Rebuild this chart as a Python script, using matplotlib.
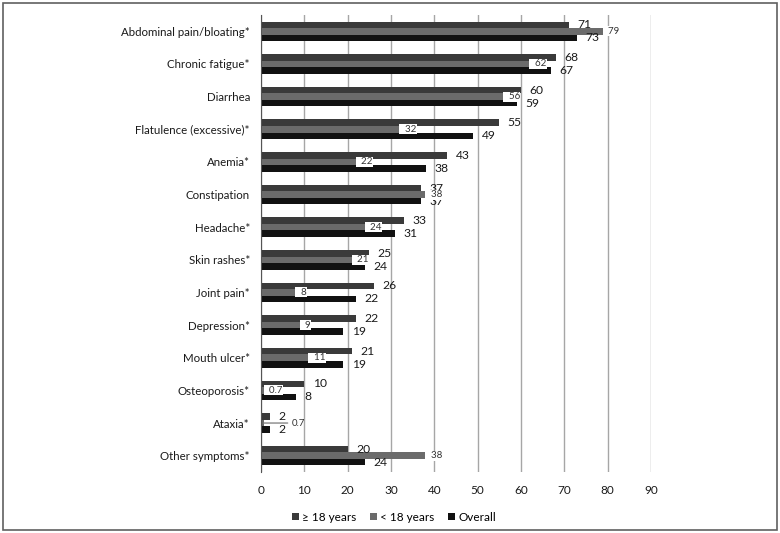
import matplotlib.pyplot as plt
import numpy as np
from matplotlib.patches import Rectangle

categories = [
    "Abdominal pain/bloating*", "Chronic fatigue*", "Diarrhea", "Flatulence (excessive)*",
    "Anemia*", "Constipation", "Headache*", "Skin rashes*", "Joint pain*", "Depression*",
    "Mouth ulcer*", "Osteoporosis*", "Ataxia*", "Other symptoms*",
]
adults = [71, 68, 60, 55, 43, 37, 33, 25, 26, 22, 21, 10, 2, 20]
children = [79, 62, 56, 32, 22, 38, 24, 21, 8, 9, 11, 0.7, 0.7, 38]
overall = [73, 67, 59, 49, 38, 37, 31, 24, 22, 19, 19, 8, 2, 24]
child_labels = ["79", "62", "56", "32", "22", "38", "24", "21", "8", "9", "11", "0.7", "0.7", "38"]
x_ticks = [0, 10, 20, 30, 40, 50, 60, 70, 80, 90]

plt.rcParams["font.family"] = ["Lato", "DejaVu Sans"]

fig = plt.figure(figsize=(7.8, 5.33), dpi=100)
ax = fig.add_axes([261 / 780, 1 - 472 / 533, 390 / 780, 457 / 533])

y = np.arange(len(categories))
h = 0.2
c_adult, c_child, c_all = "#3a3a3a", "#6b6b6b", "#111111"

ax.barh(y - h, adults, height=h, color=c_adult, label="\u2265 18 years", zorder=3)
ax.barh(y, children, height=h, color=c_child, label="< 18 years", zorder=3)
ax.barh(y + h, overall, height=h, color=c_all, label="Overall", zorder=3)

for i in range(len(categories)):
    ax.annotate(str(adults[i]), (adults[i], y[i] - h), xytext=(6, 0), textcoords="offset points",
                va="center", ha="left", fontsize=8.7, color="#1a1a1a", zorder=5)
    ax.annotate(str(overall[i]), (overall[i], y[i] + h), xytext=(6, 0), textcoords="offset points",
                va="center", ha="left", fontsize=8.7, color="#1a1a1a", zorder=5)
    if categories[i] == "Ataxia*":
        ax.annotate(child_labels[i], (children[i], y[i]), xytext=(20, 0), textcoords="offset points",
                    va="center", ha="left", fontsize=7, color="#333333", zorder=5,
                    arrowprops=dict(arrowstyle="-", color="#888888", lw=1, shrinkA=1, shrinkB=0))
    else:
        ax.annotate("  " + child_labels[i], (children[i], y[i]), xytext=(0, 0), textcoords="offset points",
                    va="center", ha="left", fontsize=7, color="#333333", zorder=5,
                    bbox=dict(boxstyle="square,pad=0.05", fc="white", ec="none"))

ax.set_xlim(0, 90)
ax.set_ylim(len(categories) - 0.5, -0.5)
ax.set_yticks(y)
ax.set_yticklabels(categories, fontsize=8.3, color="#1a1a1a")
ax.set_xticks(x_ticks)
ax.tick_params(axis="x", length=0, pad=9, labelsize=8.5, labelcolor="#1a1a1a")
ax.tick_params(axis="y", length=0, pad=8)
ax.grid(axis="x", color="#a6a6a6", lw=1, zorder=0)
for s in ["top", "right", "bottom"]:
    ax.spines[s].set_visible(False)
ax.spines["left"].set_color("#555555")
ax.spines["left"].set_zorder(4)

fig.legend(loc="center", bbox_to_anchor=(0.505, 0.03), ncol=3, frameon=False, fontsize=8.5,
           handlelength=0.6, handleheight=0.6, handletextpad=0.3, columnspacing=1.1)

fig.patches.append(Rectangle((0.004, 0.006), 0.992, 0.988, transform=fig.transFigure,
                             fill=False, ec="#606060", lw=1.2))

fig.savefig("out.png", dpi=100)
